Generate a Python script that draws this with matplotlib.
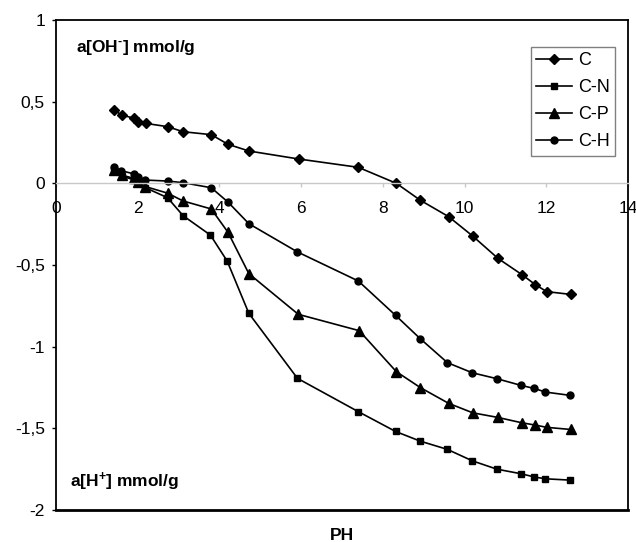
import matplotlib
matplotlib.use("Agg")
import matplotlib.pyplot as plt

plt.rcParams['font.family'] = ['Liberation Sans', 'DejaVu Sans']
plt.rcParams['mathtext.fontset'] = 'custom'
plt.rcParams['mathtext.rm'] = 'Liberation Sans:bold'
plt.rcParams['mathtext.default'] = 'rm'

# Data
ph_c = [1.41, 1.61, 1.92, 2.0, 2.2, 2.73, 3.11, 3.80, 4.21, 4.72, 5.94, 7.40, 8.33, 8.92, 9.61, 10.2, 10.82, 11.41, 11.73, 12.01, 12.6]
c_vals = [0.45, 0.418, 0.398, 0.377, 0.367, 0.347, 0.316, 0.298, 0.239, 0.198, 0.149, 0.098, 0.0, -0.104, -0.204, -0.323, -0.46, -0.56, -0.62, -0.663, -0.68]

ph_cn = [1.41, 1.61, 1.92, 2.0, 2.19, 2.73, 3.11, 3.78, 4.19, 4.72, 5.91, 7.40, 8.31, 8.91, 9.58, 10.19, 10.79, 11.38, 11.71, 11.98, 12.58]
cn_vals = [0.08, 0.045, 0.02, 0.0, -0.027, -0.088, -0.198, -0.317, -0.476, -0.796, -1.194, -1.398, -1.519, -1.578, -1.629, -1.699, -1.75, -1.778, -1.798, -1.809, -1.817]

ph_cp = [1.41, 1.61, 1.92, 2.0, 2.19, 2.73, 3.11, 3.80, 4.21, 4.72, 5.93, 7.42, 8.33, 8.92, 9.61, 10.2, 10.81, 11.4, 11.73, 12.01, 12.6]
cp_vals = [0.081, 0.05, 0.03, 0.01, -0.02, -0.06, -0.108, -0.157, -0.30, -0.553, -0.802, -0.902, -1.153, -1.251, -1.347, -1.405, -1.433, -1.466, -1.48, -1.494, -1.507]

ph_ch = [1.41, 1.6, 1.92, 2.0, 2.19, 2.73, 3.11, 3.80, 4.21, 4.72, 5.91, 7.40, 8.31, 8.91, 9.58, 10.19, 10.79, 11.38, 11.71, 11.98, 12.58]
ch_vals = [0.10, 0.077, 0.057, 0.04, 0.02, 0.014, 0.004, -0.027, -0.115, -0.247, -0.42, -0.598, -0.808, -0.95, -1.098, -1.16, -1.196, -1.237, -1.256, -1.278, -1.298]

series = [
    ("C", ph_c, c_vals, 'D', 5),
    ("C-N", ph_cn, cn_vals, 's', 4.5),
    ("C-P", ph_cp, cp_vals, '^', 6.5),
    ("C-H", ph_ch, ch_vals, 'o', 5),
]

x_ticks = [0, 2, 4, 6, 8, 10, 12, 14]
y_ticks = [1, 0.5, 0, -0.5, -1, -1.5, -2]
y_labels = ["1", "0,5", "0", "-0,5", "-1", "-1,5", "-2"]

fig = plt.figure(figsize=(6.36, 5.42), dpi=100)
ax = fig.add_axes([56/636, 1-510/542, (628-56)/636, (510-20)/542])

for name, xs, ys, mk, ms in series:
    ax.plot(xs, ys, color='black', lw=1.2, marker=mk, markersize=ms, label=name)

ax.spines['bottom'].set_position(('data', 0))
ax.spines['bottom'].set_color('#c8c8c8')
ax.spines['bottom'].set_linewidth(1.0)

ax.set_xlim(0, 14)
ax.set_ylim(-2, 1)
ax.set_xticks(x_ticks)
ax.set_xticklabels([str(t) for t in x_ticks])
ax.set_yticks(y_ticks)
ax.set_yticklabels(y_labels)

ax.tick_params(axis='x', direction='out', length=3, width=1, color='#c8c8c8', pad=10, labelsize=12.5)
ax.tick_params(axis='y', direction='out', length=3, width=1, color='black', pad=5, labelsize=12.5)
for s in ['left', 'top', 'right']:
    ax.spines[s].set_color('black')
    ax.spines[s].set_linewidth(1.3)
ax.axhline(-2, color='black', lw=2.0, clip_on=False)

ax.text(0.49, 0.83, r"a[OH$^{\text{-}}$] mmol/g", fontsize=12.5, fontweight='bold', ha='left', va='center')
ax.text(0.34, -1.83, r"a[H$^{+}$] mmol/g", fontsize=12.5, fontweight='bold', ha='left', va='center')
fig.text(342/636, 1-535/542, "PH", fontsize=12.5, fontweight='bold', ha='center', va='center')

leg = ax.legend(loc='upper right', fontsize=13,
                frameon=True, fancybox=False, borderpad=0.3, handlelength=2.0,
                handletextpad=0.3, labelspacing=0.55, borderaxespad=0)
leg.set_bbox_to_anchor((615/636, 1-47/542), transform=fig.transFigure)
leg.get_frame().set_edgecolor('#606060')
leg.get_frame().set_linewidth(1.0)

fig.savefig("out.png", dpi=100)
